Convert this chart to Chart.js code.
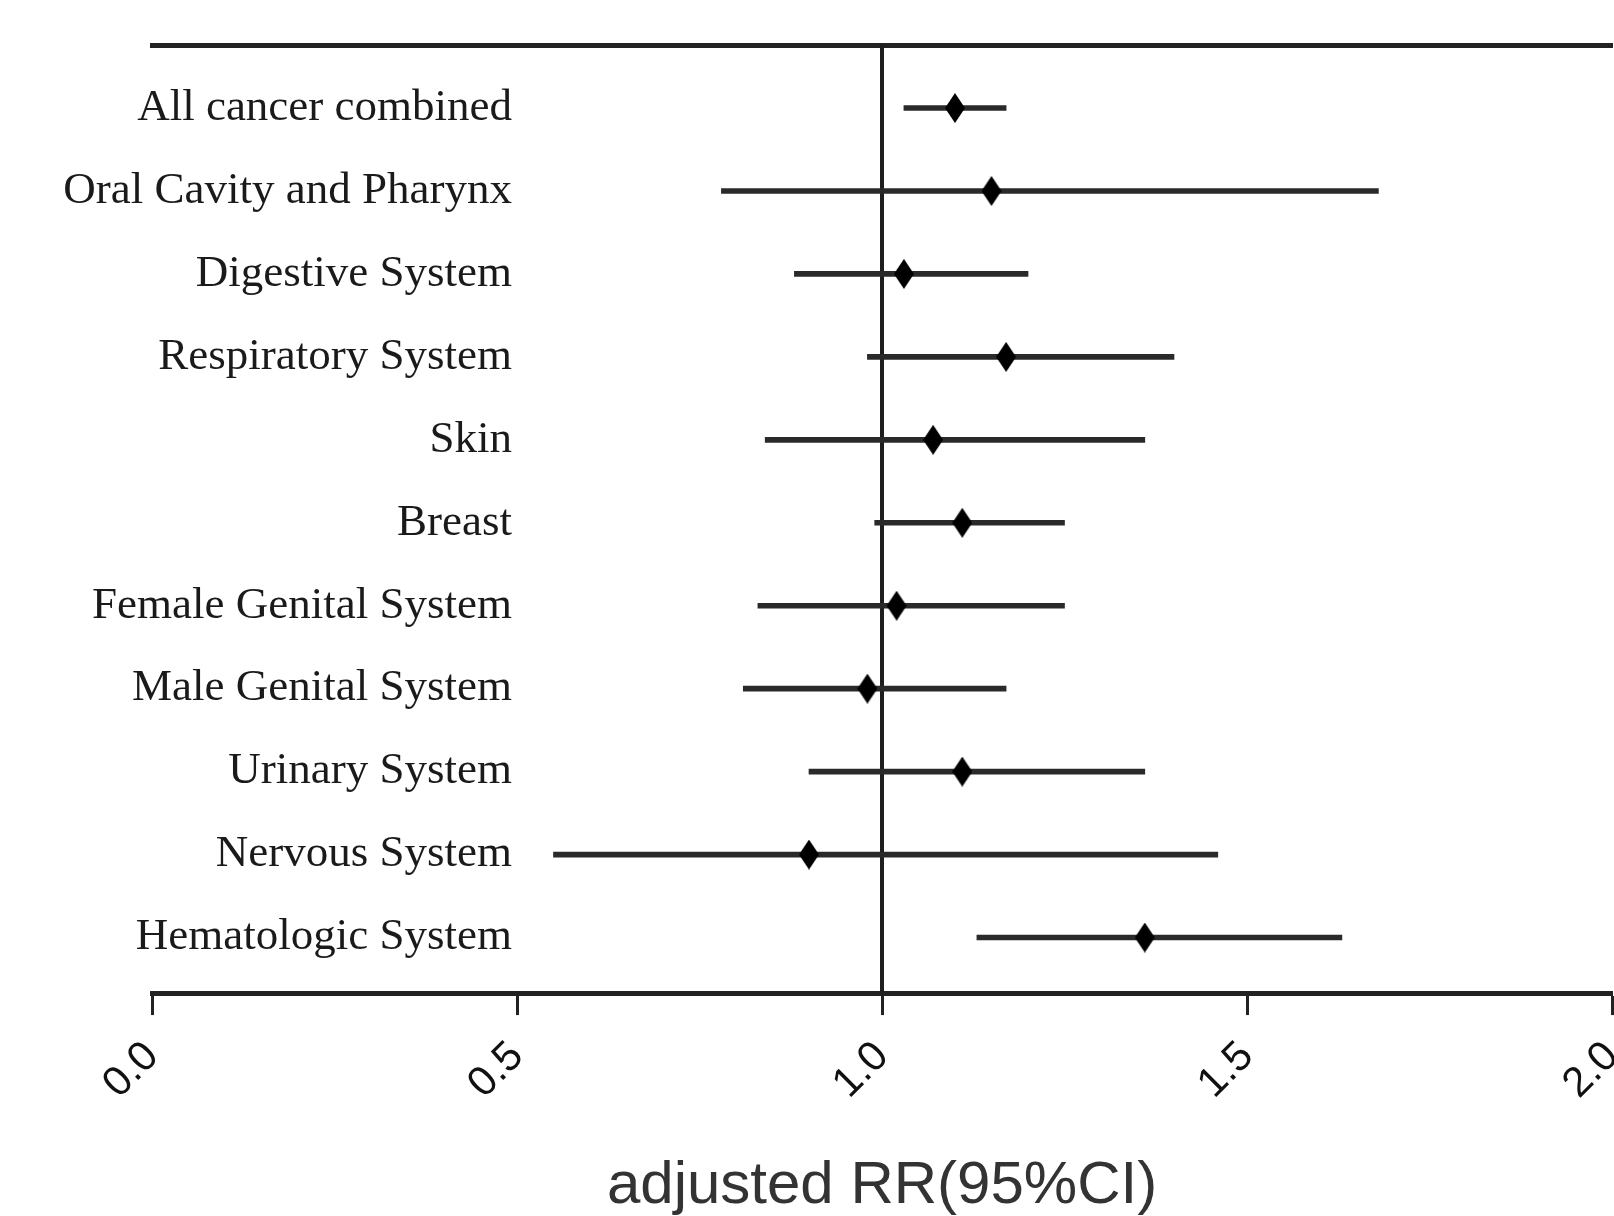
<!DOCTYPE html>
<html>
<head>
<meta charset="utf-8">
<script src="https://cdn.jsdelivr.net/npm/chart.js@4"></script>
<style>
  html, body { margin: 0; padding: 0; background: #fff; }
  #wrap { width: 1614px; height: 1216px; }
</style>
</head>
<body>
<div id="wrap"><canvas id="forestChart"></canvas></div>
<script>
// Data
const categories = [
  "All cancer combined",
  "Oral Cavity and Pharynx",
  "Digestive System",
  "Respiratory System",
  "Skin",
  "Breast",
  "Female Genital System",
  "Male Genital System",
  "Urinary System",
  "Nervous System",
  "Hematologic System",
];
const rrValues = [1.10, 1.15, 1.03, 1.17, 1.07, 1.11, 1.02, 0.98, 1.11, 0.90, 1.36];
const ciLower = [1.03, 0.78, 0.88, 0.98, 0.84, 0.99, 0.83, 0.81, 0.90, 0.55, 1.13];
const ciUpper = [1.17, 1.68, 1.20, 1.40, 1.36, 1.25, 1.25, 1.17, 1.36, 1.46, 1.63];
const xTicks = [0.0, 0.5, 1.0, 1.5, 2.0];
const refValue = 1.0;

// y range (rows are 0..10, top to bottom)
const yMin = -0.76;
const yMax = 10.67;

// tall diamond marker
const diamond = document.createElement("canvas");
diamond.width = 20;
diamond.height = 30;
const dc = diamond.getContext("2d");
dc.fillStyle = "#000";
dc.beginPath();
dc.moveTo(10, 0);
dc.lineTo(20, 15);
dc.lineTo(10, 30);
dc.lineTo(0, 15);
dc.closePath();
dc.fill();

// row labels sit inside the plot, right-aligned just left of x = 0.5
const rowLabels = {
  id: "rowLabels",
  afterDraw(chart) {
    const { ctx, scales } = chart;
    const right = scales.x.getPixelForValue(0.5) - 5;
    ctx.save();
    ctx.fillStyle = "#1a1a1a";
    ctx.font = "45px 'Liberation Serif', 'Times New Roman', serif";
    ctx.textAlign = "right";
    ctx.textBaseline = "middle";
    categories.forEach((c, i) => {
      ctx.fillText(c, right, scales.y.getPixelForValue(i));
    });
    ctx.restore();
  },
};

Chart.defaults.font.family = "'Liberation Sans', Arial, sans-serif";

new Chart(document.getElementById("forestChart"), {
  type: "scatter",
  data: {
    datasets: [
      {
        type: "line",
        label: "reference",
        data: [
          { x: refValue, y: yMin },
          { x: refValue, y: yMax },
        ],
        borderColor: "#1e1e1e",
        borderWidth: 4,
        pointRadius: 0,
        order: 3,
      },
      {
        type: "bar",
        label: "95% CI",
        indexAxis: "y",
        data: categories.map((c, i) => ({ x: [ciLower[i], ciUpper[i]], y: i })),
        backgroundColor: "#2a2a2a",
        borderWidth: 0,
        barThickness: 5,
        order: 2,
      },
      {
        type: "scatter",
        label: "adjusted RR",
        data: rrValues.map((v, i) => ({ x: v, y: i })),
        pointStyle: diamond,
        pointRadius: 10,
        order: 1,
      },
    ],
  },
  options: {
    responsive: true,
    maintainAspectRatio: false,
    animation: false,
    layout: {
      autoPadding: false,
      padding: { left: 152, right: 2, top: 45, bottom: 0 },
    },
    scales: {
      x: {
        type: "linear",
        position: "bottom",
        min: 0,
        max: 2,
        offset: false,
        afterBuildTicks: (s) => {
          s.ticks = xTicks.map((v) => ({ value: v }));
        },
        afterFit: (s) => {
          s.paddingLeft = 0;
          s.paddingRight = 0;
        },
        ticks: {
          autoSkip: false,
          maxRotation: 45,
          minRotation: 45,
          padding: 17,
          color: "#111",
          font: { size: 42 },
          callback: (v) => Number(v).toFixed(1),
        },
        grid: {
          offset: false,
          drawOnChartArea: false,
          drawTicks: true,
          tickLength: 22,
          tickWidth: 3,
          tickColor: "#222",
        },
        border: { display: true, width: 5, color: "#222" },
        title: {
          display: true,
          text: "adjusted RR(95%CI)",
          color: "#333",
          font: { size: 60, lineHeight: 1 },
          padding: { top: 30, bottom: 0 },
        },
      },
      x2: {
        type: "linear",
        axis: "x",
        position: "top",
        min: 0,
        max: 2,
        offset: false,
        afterFit: (s) => {
          s.paddingLeft = 0;
          s.paddingRight = 0;
        },
        ticks: { display: false },
        grid: { display: false, drawTicks: false },
        border: { display: true, width: 5, color: "#222" },
      },
      y: {
        type: "linear",
        reverse: true,
        min: yMin,
        max: yMax,
        offset: false,
        afterFit: (s) => {
          s.width = 0;
          s.paddingTop = 0;
          s.paddingBottom = 0;
        },
        ticks: { display: false },
        grid: { display: false, drawTicks: false },
        border: { display: false },
      },
    },
    plugins: {
      legend: { display: false },
      tooltip: { enabled: false },
    },
  },
  plugins: [rowLabels],
});
</script>
</body>
</html>
